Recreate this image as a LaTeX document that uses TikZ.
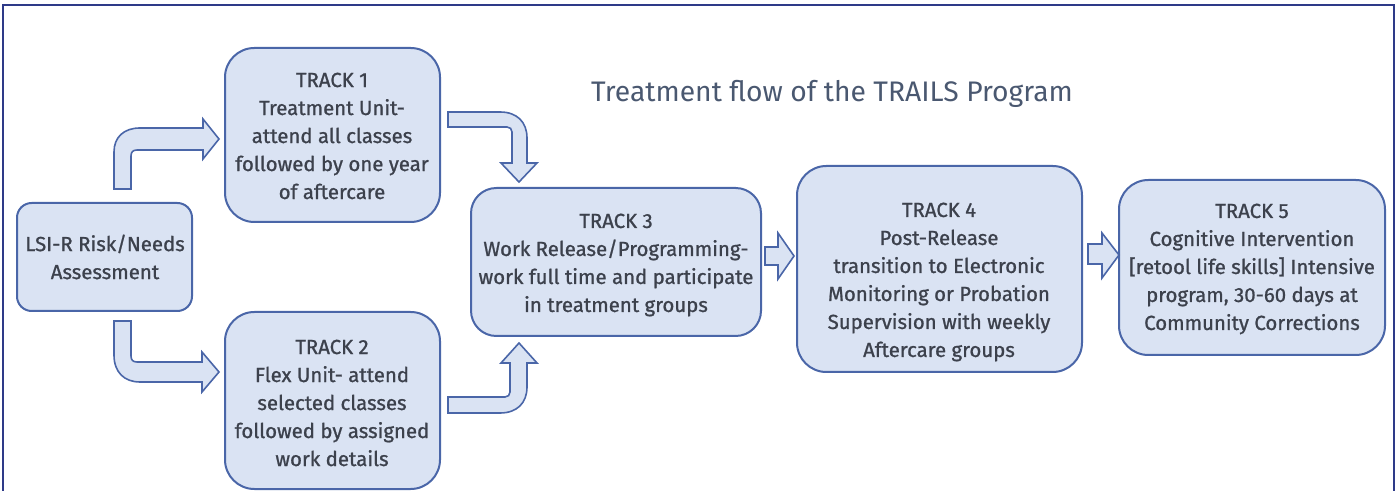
\documentclass[tikz,border=0pt]{standalone}
\usepackage{fontspec}
\setmainfont{Fira Sans}
\newfontfamily\boxfont{Fira Sans}[FakeBold=1.0]
\definecolor{boxfill}{HTML}{DAE3F3}
\definecolor{boxline}{HTML}{4A66A8}
\definecolor{boxtext}{HTML}{3C414C}
\definecolor{titletext}{HTML}{4A5870}
\definecolor{frameline}{HTML}{2E3A88}
\tikzset{
  trackbox/.style={draw=boxline, fill=boxfill, line width=1.5pt, rounded corners=22pt},
  tracktext/.style={text=boxtext, align=center, font=\boxfont\fontsize{15.3pt}{21pt}\selectfont, inner sep=0pt},
  blockarrow/.style={draw=boxline, fill=boxfill, line width=1.2pt, line join=miter},
}
\begin{document}
\begin{tikzpicture}[x=0.75pt,y=-0.75pt]
\useasboundingbox (0,0) rectangle (1396,491);
% outer frame
\draw[frameline, line width=1.6pt] (3,491) -- (3,5) -- (1394,5) -- (1394,491);
% title
\node[text=titletext, font=\fontsize{21.2pt}{25pt}\selectfont, inner sep=0pt] (title) at (832,94) {Treatment flow of the TRAILS Program};
% boxes
\draw[trackbox, rounded corners=11pt] (17,203) rectangle (192,311);
\node[tracktext] (lsi) at (105,257) {LSI-R Risk/Needs\\Assessment};
\draw[trackbox] (225,48) rectangle (440,222);
\node[tracktext] (t1) at (332,136) {TRACK 1\\Treatment Unit-\\attend all classes\\followed by one year\\of aftercare};
\draw[trackbox] (225,312) rectangle (440,489);
\node[tracktext] (t2) at (332,403) {TRACK 2\\Flex Unit- attend\\selected classes\\followed by assigned\\work details};
\draw[trackbox, rounded corners=19pt] (471,188) rectangle (761,336);
\node[tracktext] (t3) at (616,265) {TRACK 3\\Work Release/Programming-\\work full time and participate\\in treatment groups};
\draw[trackbox] (797,166) rectangle (1082,372);
\node[tracktext] (t4) at (939,282) {TRACK 4\\Post-Release\\transition to Electronic\\Monitoring or Probation\\Supervision with weekly\\Aftercare groups};
\draw[trackbox] (1119,180) rectangle (1385,355);
\node[tracktext] (t5) at (1252,269) {TRACK 5\\Cognitive Intervention\\{[}retool life skills{]} Intensive\\program, 30-60 days at\\Community Corrections};
% block arrows
\draw[blockarrow] (114,189) -- (114,152) .. controls (114,137) and (124,128) .. (140,128) -- (203,128) -- (203,119) -- (219,139) -- (203,159) -- (203,150) -- (137,150) .. controls (133,150) and (131,152) .. (131,156) -- (131,189) -- cycle;
\draw[blockarrow] (114,321) -- (114,355) .. controls (114,372) and (124,382) .. (140,382) -- (202,382) -- (202,392) -- (219,372) -- (202,352) -- (202,362) -- (137,362) .. controls (133,362) and (131,360) .. (131,356) -- (131,321) -- cycle;
\draw[blockarrow] (448,112) -- (500,112) .. controls (517,112) and (527,122) .. (527,138) -- (527,163) -- (537,163) -- (519,182) -- (501,163) -- (512,163) -- (512,132) .. controls (512,129) and (510,127) .. (507,127) -- (448,127) -- cycle;
\draw[blockarrow] (448,413) -- (500,413) .. controls (517,413) and (527,403) .. (527,387) -- (527,363) -- (537,363) -- (519,343) -- (501,363) -- (510,363) -- (510,392) .. controls (510,395) and (508,397) .. (505,397) -- (448,397) -- cycle;
\draw[blockarrow] (765,247) -- (778,247) -- (778,233) -- (794,256) -- (778,279) -- (778,265) -- (765,265) -- cycle;
\draw[blockarrow] (1088,244) -- (1102,244) -- (1102,233) -- (1119,255) -- (1102,278) -- (1102,264) -- (1088,264) -- cycle;
\end{tikzpicture}
\end{document}
